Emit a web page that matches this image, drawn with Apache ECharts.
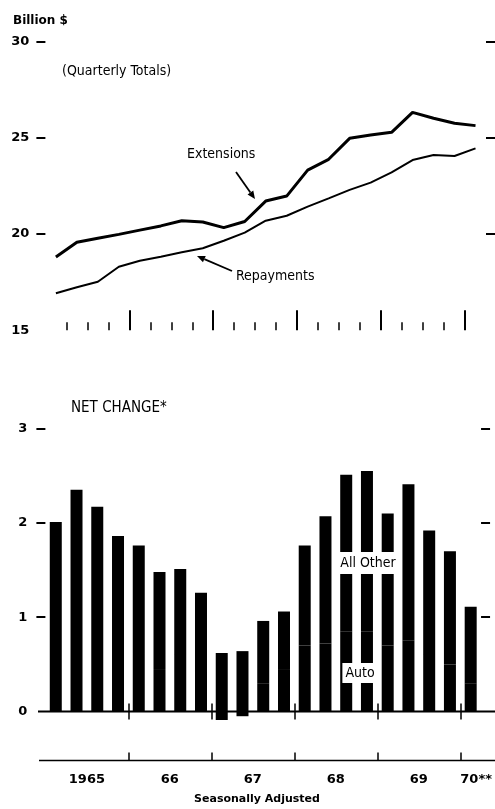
<!DOCTYPE html>
<html><head><meta charset="utf-8">
<script src="https://cdn.jsdelivr.net/npm/echarts@6/dist/echarts.min.js"></script>
<style>html,body{margin:0;padding:0;background:#fff}#c{width:495px;height:809px}</style>
</head><body><div id="c"></div>
<script>
// ---- data ----
const quarters = ['1965 Q1','1965 Q2','1965 Q3','1965 Q4','1966 Q1','1966 Q2','1966 Q3','1966 Q4',
  '1967 Q1','1967 Q2','1967 Q3','1967 Q4','1968 Q1','1968 Q2','1968 Q3','1968 Q4',
  '1969 Q1','1969 Q2','1969 Q3','1969 Q4','1970 Q1'];
const extensions = [18.8, 19.57, 19.78, 19.98, 20.2, 20.42, 20.69, 20.62, 20.33, 20.65, 21.71,
  21.97, 23.32, 23.88, 24.97, 25.14, 25.28, 26.32, 26.01, 25.75, 25.63];
const repayments = [16.92, 17.23, 17.52, 18.3, 18.61, 18.82, 19.05, 19.26, 19.65, 20.07, 20.69,
  20.95, 21.42, 21.85, 22.29, 22.67, 23.2, 23.84, 24.1, 24.05, 24.45];
const autoChange = [0.95, 0.95, 0.95, 0.80, 0.62, 0.45, 0.60, 0.42, -0.09, -0.05, 0.30,
  0.45, 0.70, 0.72, 0.85, 0.85, 0.70, 0.75, 0.60, 0.50, 0.30];
const otherChange = [1.06, 1.40, 1.22, 1.06, 1.14, 1.03, 0.91, 0.84, 0.62, 0.64, 0.66,
  0.61, 1.06, 1.35, 1.66, 1.70, 1.40, 1.66, 1.32, 1.20, 0.81];
const topTickValues = [20, 25, 30];
const bottomTickValues = [1, 2, 3];
// quarter boundaries (22 edges) and year labels placed at year centres
const boundaries = Array.from({length: 22}, (_, k) => 'b' + k);
const yearLabels = ['', '', '1965', '', '', '', '66', '', '', '', '67', '', '', '', '68', '', '', '', '69', '', '', ''];
const lastYearLabels = ['', '', '', '', '', '', '', '', '', '', '', '', '', '', '', '', '', '', '', '', '70**', ''];

// ---- layout / style ----
const GL = 45.4, GR = 9;
const BLK = '#000';
const NARROW = "'Liberation Sans Narrow','DejaVu Sans Condensed',sans-serif";
const BOLD = "'DejaVu Sans',sans-serif";

const chart = echarts.init(document.getElementById('c'));

function edgeAxis(gridIndex, tickFilter, o) {
  return Object.assign({
    type: 'category', gridIndex, data: boundaries, boundaryGap: false, position: 'bottom',
    axisLine: {show: false},
    axisTick: {show: true, interval: (k) => tickFilter(k), inside: true, length: 8,
      lineStyle: {color: BLK, width: 1.5}},
    axisLabel: {show: false}, splitLine: {show: false}
  }, o || {});
}
const isMinor = k => k >= 1 && k <= 20 && k % 4 !== 0;
const isMajor = k => k >= 4 && k <= 20 && k % 4 === 0;

function yAx(gridIndex, pos, min, max, interval, ticks, showLabel, margin) {
  return {
    type: 'value', gridIndex, position: pos, min, max, interval,
    axisLine: {show: false},
    axisTick: {show: true, length: 9, customValues: ticks, lineStyle: {color: BLK, width: 2}},
    axisLabel: {show: showLabel, color: BLK, fontFamily: BOLD, fontWeight: 'bold', fontSize: 13, margin},
    splitLine: {show: false}
  };
}

const option = {
  animation: false,
  backgroundColor: '#fff',
  grid: [
    {left: GL, right: GR, top: 41.5, height: 288.75},
    {left: GL, right: GR, top: 428.5, height: 283}
  ],
  xAxis: [
    {type: 'category', gridIndex: 0, data: quarters, boundaryGap: true, show: false},
    edgeAxis(0, isMinor),
    edgeAxis(0, isMajor, {axisTick: {show: true, interval: (k) => isMajor(k), inside: true, length: 20, lineStyle: {color: BLK, width: 2}}}),
    {type: 'category', gridIndex: 1, data: quarters, boundaryGap: true, show: false},
    edgeAxis(1, isMajor),
    edgeAxis(1, isMajor, {axisTick: {show: true, interval: (k) => isMajor(k), inside: false, length: 8, lineStyle: {color: BLK, width: 1.5}}}),
    edgeAxis(1, isMajor, {offset: 49, data: yearLabels,
      axisLabel: {show: true, interval: 0, color: BLK, fontFamily: BOLD, fontWeight: 'bold', fontSize: 13, margin: 13}}),
    edgeAxis(1, () => false, {offset: 49, data: lastYearLabels, axisTick: {show: false},
      axisLabel: {show: true, interval: 0, align: 'left', color: BLK, fontFamily: BOLD, fontWeight: 'bold', fontSize: 13, margin: 13}})
  ],
  yAxis: [
    yAx(0, 'left', 15, 30, 5, topTickValues, true, 16),
    yAx(0, 'right', 15, 30, 5, topTickValues, false, 8),
    yAx(1, 'left', 0, 3, 1, bottomTickValues, true, 18),
    yAx(1, 'right', 0, 3, 1, bottomTickValues, false, 8)
  ],
  series: [
    {name: 'Extensions', type: 'line', xAxisIndex: 0, yAxisIndex: 0, data: extensions,
      showSymbol: false, lineStyle: {color: BLK, width: 3}, itemStyle: {color: BLK}},
    {name: 'Repayments', type: 'line', xAxisIndex: 0, yAxisIndex: 0, data: repayments,
      showSymbol: false, lineStyle: {color: BLK, width: 2}, itemStyle: {color: BLK}},
    {name: 'Auto', type: 'bar', xAxisIndex: 3, yAxisIndex: 2, stack: 'net', data: autoChange,
      barWidth: 12, clip: false, itemStyle: {color: BLK}},
    {name: 'All Other', type: 'bar', xAxisIndex: 3, yAxisIndex: 2, stack: 'net', data: otherChange,
      barWidth: 12, clip: false, itemStyle: {color: BLK}}
  ]
};
chart.setOption(option);

// ---- annotations ----
function arrow(id, x1, y1, x2, y2) {
  const dx = x2 - x1, dy = y2 - y1, L = Math.hypot(dx, dy);
  const ux = dx / L, uy = dy / L, px = -uy, py = ux, hl = 8, hw = 3.5;
  const bx = x2 - ux * hl, by = y2 - uy * hl;
  return [
    {type: 'line', id: id + 'l', z: 100, shape: {x1, y1, x2: bx, y2: by}, style: {stroke: BLK, lineWidth: 1.8}},
    {type: 'polygon', id: id + 'h', z: 100, shape: {points: [[x2, y2], [bx + px * hw, by + py * hw], [bx - px * hw, by - py * hw]]},
      style: {fill: BLK}}
  ];
}
function txt(id, text, x, y, font, extra) {
  return {type: 'text', id, z: 100, x, y, style: Object.assign({text, fill: BLK, verticalAlign: 'middle',
    font}, extra || {})};
}
const y0 = chart.convertToPixel({yAxisIndex: 2}, 0);
const graphics = [
  txt('g1', 'Billion $', 13, 21, "bold 12px " + BOLD),
  txt('g2', '(Quarterly Totals)', 62, 71, "14px " + NARROW),
  txt('g3', 'Extensions', 187, 154, "14px " + NARROW),
  txt('g4', 'Repayments', 236, 276, "14px " + NARROW),
  txt('g5', 'NET CHANGE*', 71, 408, "15px " + NARROW),
  txt('g6', 'All Other', 368, 563, "14px " + NARROW, {align: 'center', backgroundColor: '#fff', padding: [4, 3, 4, 3]}),
  txt('g7', 'Auto', 360, 673, "14px " + NARROW, {align: 'center', backgroundColor: '#fff', padding: [3, 3, 3, 3]}),
  txt('g8', 'Seasonally Adjusted', 257, 799, "bold 11px " + BOLD, {align: 'center'}),
  {type: 'line', id: 'base0', z: 90, shape: {x1: 38, y1: y0, x2: 495, y2: y0}, style: {stroke: BLK, lineWidth: 2}},
  {type: 'line', id: 'base1', z: 90, shape: {x1: 39, y1: y0 + 49, x2: 495, y2: y0 + 49}, style: {stroke: BLK, lineWidth: 1.5}},
  ...arrow('a1', 236, 172, 255, 199),
  ...arrow('a2', 232, 271, 197, 256)
];
chart.setOption({graphic: graphics});
</script></body></html>
